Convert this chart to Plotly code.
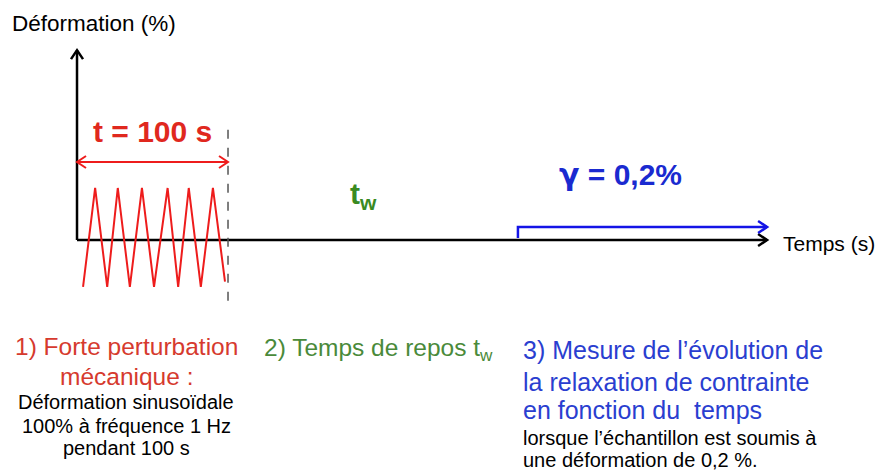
import math
import plotly.graph_objects as go

W, H = 882, 470

# ---------------- data (schematic values) ----------------
zigzag_time_s = [4, 12, 20, 27, 35, 43, 51, 60, 67, 74, 82, 90, 98]
zigzag_strain_pct = [-90, 100, -90, 100, -90, 100, -90, 100, -90, 100, -90, 100, -80]
perturbation_end_s = 100          # end of the 100 s sinusoidal perturbation
relax_start_s = 292               # start of the 0.2 % step (schematic)
gamma_level = 25                  # schematic height of the step
time_axis_end_s = 457
strain_axis_end = 365
duration_arrow_level = 150
dashed_top, dashed_bottom = 212, -122

# axis ranges (schematic units): origin of the diagram sits at pixel (77, 240)
X_RANGE = [-51.0, 533.1]
Y_RANGE = [-442.3, 461.5]
PX_X = W / (X_RANGE[1] - X_RANGE[0])
PX_Y = H / (Y_RANGE[1] - Y_RANGE[0])


def chevron(tx, ty, dx_px, dy_px, color, width):
    """Open arrow head at (tx, ty) pointing along direction (dx_px, dy_px) in pixels."""
    L = math.hypot(dx_px, dy_px)
    ux, uy = dx_px / L, dy_px / L
    back, half = 9, 6
    pts = []
    for s in (1, -1):
        px = -ux * back + s * (-uy) * half
        py = -uy * back + s * ux * half
        pts.append((tx + px / PX_X, ty + py / PX_Y))
    return go.Scatter(x=[pts[0][0], tx, pts[1][0]], y=[pts[0][1], ty, pts[1][1]],
                      mode="lines", line=dict(color=color, width=width),
                      hoverinfo="skip", showlegend=False)


fig = go.Figure()

# axes
fig.add_trace(go.Scatter(x=[0, time_axis_end_s], y=[0, 0], mode="lines",
                         line=dict(color="black", width=2.5), showlegend=False))
fig.add_trace(go.Scatter(x=[0, 0], y=[0, strain_axis_end], mode="lines",
                         line=dict(color="black", width=2.5), showlegend=False))
fig.add_trace(chevron(time_axis_end_s, 0, 1, 0, "black", 2.5))
fig.add_trace(chevron(0, strain_axis_end, 0, 1, "black", 2.5))

# sinusoidal perturbation (zig-zag)
fig.add_trace(go.Scatter(x=zigzag_time_s, y=zigzag_strain_pct, mode="lines",
                         line=dict(color="#ee1c1c", width=2), showlegend=False))

# dashed line marking end of perturbation
fig.add_trace(go.Scatter(x=[perturbation_end_s, perturbation_end_s],
                         y=[dashed_top, dashed_bottom], mode="lines",
                         line=dict(color="#555555", width=1.5, dash="dash"),
                         showlegend=False))

# double arrow t = 100 s
fig.add_trace(go.Scatter(x=[0, perturbation_end_s],
                         y=[duration_arrow_level, duration_arrow_level], mode="lines",
                         line=dict(color="#ee1c1c", width=2), showlegend=False))
fig.add_trace(chevron(0, duration_arrow_level, -1, 0, "#ee1c1c", 2))
fig.add_trace(chevron(perturbation_end_s, duration_arrow_level, 1, 0, "#ee1c1c", 2))

# step of 0.2 %
fig.add_trace(go.Scatter(x=[relax_start_s, relax_start_s, time_axis_end_s],
                         y=[4, gamma_level, gamma_level], mode="lines",
                         line=dict(color="#1414e6", width=2.5), showlegend=False))
fig.add_trace(chevron(time_axis_end_s, gamma_level, 1, 0, "#1414e6", 2.5))


def P(xpx, ypx):
    return xpx / W, 1 - ypx / H


FONT = "Liberation Sans, Arial, sans-serif"
RED_T = "#d63a2e"
GREEN_T = "#4a8a3a"
BLUE_T = "#2a3ed0"


def txt(s, xpx, ypx, size, color="black", xanchor="center", bold=False, family=FONT):
    x, y = P(xpx, ypx)
    fig.add_annotation(text=f"<b>{s}</b>" if bold else s, x=x, y=y,
                       xref="paper", yref="paper", xanchor=xanchor, yanchor="middle",
                       showarrow=False, font=dict(family=family, size=size, color=color))


txt("Déformation (%)", 10, 24, 22.5, xanchor="left")
txt("Temps (s)", 781, 243, 21, xanchor="left")
txt("t = 100 s", 152, 132, 30, "#e0281e", bold=True)
txt("<span style='font-family:DejaVu Sans'>γ</span> = 0,2%", 620, 174, 30, "#1a2ad0", bold=True)
txt("t<sub>w</sub>", 348, 196, 30, "#3a8a22", xanchor="left", bold=True)

txt("1) Forte perturbation", 126, 346, 24.5, RED_T)
txt("mécanique :", 126, 376, 24.5, RED_T)
txt("Déformation sinusoïdale", 126, 402, 20)
txt("100% à fréquence 1 Hz", 126, 426, 20)
txt("pendant 100 s", 126, 448, 20)

txt("2) Temps de repos t<sub>w</sub>", 262, 349, 24.5, GREEN_T, xanchor="left")

txt("3) Mesure de l’évolution de", 521, 350, 25, BLUE_T, xanchor="left")
txt("la relaxation de contrainte", 521, 382, 25, BLUE_T, xanchor="left")
txt("en fonction du  temps", 521, 410, 25, BLUE_T, xanchor="left")
txt("lorsque l’échantillon est soumis à", 521, 438, 20, xanchor="left")
txt("une déformation de 0,2 %.", 521, 460, 20, xanchor="left")

fig.update_layout(
    width=W, height=H, margin=dict(l=0, r=0, t=0, b=0),
    paper_bgcolor="white", plot_bgcolor="white", showlegend=False,
    xaxis=dict(range=X_RANGE, visible=False, fixedrange=True),
    yaxis=dict(range=Y_RANGE, visible=False, fixedrange=True),
)

fig.write_html("out.html", config={"displayModeBar": False},
               post_script="document.body.style.margin='0';document.body.style.overflow='hidden';")
